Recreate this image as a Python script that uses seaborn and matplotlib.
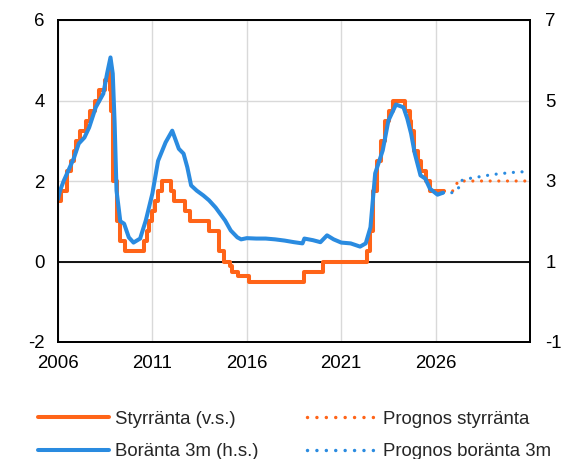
import matplotlib
matplotlib.use("Agg")
import pandas as pd
import seaborn as sns
import matplotlib.pyplot as plt
from matplotlib.lines import Line2D

# Styrränta (v.s.) - step changes: (year, value)
styr_year = [2006.0, 2006.15, 2006.47, 2006.7, 2006.83, 2006.97, 2007.15, 2007.47,
             2007.7, 2007.98, 2008.15, 2008.5, 2008.7, 2008.77, 2008.83, 2008.93,
             2009.13, 2009.3, 2009.55, 2010.55, 2010.7, 2010.8, 2010.97, 2011.13,
             2011.3, 2011.53, 2011.97, 2012.13, 2012.75, 2013.0, 2014.0, 2014.55,
             2014.8, 2015.13, 2015.22, 2015.55, 2016.13, 2019.02, 2020.02, 2022.35,
             2022.5, 2022.7, 2022.9, 2023.13, 2023.3, 2023.55, 2023.72, 2024.38,
             2024.63, 2024.72, 2024.88, 2025.07, 2025.22, 2025.47, 2025.72, 2026.45]
styr_val = [1.5, 1.75, 2.25, 2.5, 2.75, 3.0, 3.25, 3.5,
            3.75, 4.0, 4.25, 4.5, 4.75, 4.25, 3.75, 2.0,
            1.0, 0.5, 0.25, 0.5, 0.75, 1.0, 1.25, 1.5,
            1.75, 2.0, 1.75, 1.5, 1.25, 1.0, 0.75, 0.25,
            0.0, -0.1, -0.25, -0.35, -0.5, -0.25, 0.0, 0.25,
            0.75, 1.75, 2.5, 3.0, 3.5, 3.75, 4.0, 3.75,
            3.5, 3.25, 2.75, 2.5, 2.25, 2.0, 1.75, 1.75]

# Boränta 3m (h.s.)
bor_year = [2006.0, 2006.1, 2006.3, 2006.55, 2006.85, 2007.1, 2007.4, 2007.65, 2008.0,
            2008.4, 2008.6, 2008.78, 2008.9, 2009.0, 2009.1, 2009.3, 2009.5, 2009.75,
            2010.0, 2010.35, 2010.65, 2011.0, 2011.3, 2011.7, 2012.05, 2012.4, 2012.65,
            2012.85, 2013.05, 2013.35, 2013.7, 2014.0, 2014.35, 2014.85, 2015.15, 2015.5,
            2015.7, 2016.0, 2016.5, 2017.0, 2017.5, 2018.0, 2018.5, 2018.95, 2019.05,
            2019.5, 2019.9, 2020.25, 2020.6, 2021.0, 2021.5, 2022.0, 2022.3, 2022.55,
            2022.8, 2023.2, 2023.5, 2023.9, 2024.3, 2024.5, 2024.7, 2024.9, 2025.2,
            2025.45, 2025.7, 2026.1, 2026.4]
bor_val = [2.55, 2.75, 3.0, 3.26, 3.58, 3.93, 4.08, 4.33, 4.83,
           5.17, 5.67, 6.07, 5.67, 4.43, 2.76, 2.0, 1.94, 1.6,
           1.47, 1.57, 2.02, 2.69, 3.5, 3.96, 4.25, 3.8, 3.68,
           3.34, 2.89, 2.76, 2.64, 2.52, 2.34, 2.02, 1.77, 1.6,
           1.55, 1.58, 1.57, 1.57, 1.55, 1.52, 1.48, 1.45, 1.57,
           1.53, 1.48, 1.65, 1.55, 1.47, 1.45, 1.37, 1.45, 1.85,
           3.19, 3.76, 4.5, 4.9, 4.83, 4.55, 4.18, 3.68, 3.14,
           3.06, 2.81, 2.66, 2.71]

# Prognoser
prog_styr_year = [2026.45, 2026.9, 2027.2, 2028.0, 2029.0, 2030.0, 2031.0]
prog_styr_val = [1.75, 1.75, 2.0, 2.0, 2.0, 2.0, 2.0]
prog_bor_year = [2026.4, 2026.9, 2027.2, 2027.35, 2027.75, 2028.25, 2029.0, 2030.0, 2031.0]
prog_bor_val = [2.71, 2.71, 2.81, 3.01, 3.06, 3.1, 3.16, 3.21, 3.24]

x_ticks = [2006, 2011, 2016, 2021, 2026]

ORANGE = "#FF6418"
BLUE = "#2A8BE0"
FS = 13.4

sns.set_theme(style="white")
plt.rcParams["font.family"] = ["Liberation Sans", "DejaVu Sans"]
plt.rcParams["axes.unicode_minus"] = False

fig = plt.figure(figsize=(5.65, 4.59), dpi=100)
ax = fig.add_axes([58 / 565, 1 - 342 / 459, (530 - 58) / 565, (342 - 20) / 459])
ax2 = ax.twinx()

styr = pd.DataFrame({"year": styr_year, "value": styr_val})
bor = pd.DataFrame({"year": bor_year, "value": bor_val})
pstyr = pd.DataFrame({"year": prog_styr_year, "value": prog_styr_val})
pbor = pd.DataFrame({"year": prog_bor_year, "value": prog_bor_val})

dot = (0, (0.01, 2.7))
sns.lineplot(data=styr, x="year", y="value", ax=ax, color=ORANGE, lw=2.9,
             drawstyle="steps-post", estimator=None, sort=False)
sns.lineplot(data=pstyr, x="year", y="value", ax=ax, color=ORANGE, lw=2.3,
             linestyle=dot, dash_capstyle="round", estimator=None, sort=False)
sns.lineplot(data=bor, x="year", y="value", ax=ax2, color=BLUE, lw=2.9,
             estimator=None, sort=False)
sns.lineplot(data=pbor, x="year", y="value", ax=ax2, color=BLUE, lw=2.3,
             linestyle=dot, dash_capstyle="round", estimator=None, sort=False)

ax.axhline(0, color="black", lw=1.3, zorder=1)

ax.set_xlim(2006, 2031)
ax.set_ylim(-2, 6)
ax2.set_ylim(-1, 7)
ax.set_yticks([-2, 0, 2, 4, 6])
ax2.set_yticks([-1, 1, 3, 5, 7])
ax.set_xticks(x_ticks)
ax.set_xticklabels([str(t) for t in x_ticks])

ax.grid(True, color="#D9D9D9", lw=1)
ax.set_axisbelow(True)
for a in (ax, ax2):
    a.set_xlabel("")
    a.set_ylabel("")
    for s in a.spines.values():
        s.set_color("black")
        s.set_linewidth(1.3)
ax.tick_params(axis="x", length=0, pad=9, labelsize=FS, colors="black")
ax.tick_params(axis="y", length=0, pad=9.5, labelsize=FS, colors="black")
ax2.tick_params(axis="y", length=0, pad=11, labelsize=FS, colors="black")

handles = [
    Line2D([], [], color=ORANGE, lw=2.9),
    Line2D([], [], color=BLUE, lw=2.9),
    Line2D([], [], color=ORANGE, lw=2.5, linestyle=dot, dash_capstyle="round"),
    Line2D([], [], color=BLUE, lw=2.5, linestyle=dot, dash_capstyle="round"),
]
labels = ["Styrränta (v.s.)", "Boränta 3m (h.s.)", "Prognos styrränta", "Prognos boränta 3m"]
fig.legend(handles, labels, ncol=2, loc="upper left", bbox_to_anchor=(38 / 565, 0.105),
           frameon=False, fontsize=FS, borderpad=0, borderaxespad=0,
           handlelength=3.8, handletextpad=0.32, columnspacing=2.6, labelspacing=0.83)

fig.savefig("out.png", dpi=100)
